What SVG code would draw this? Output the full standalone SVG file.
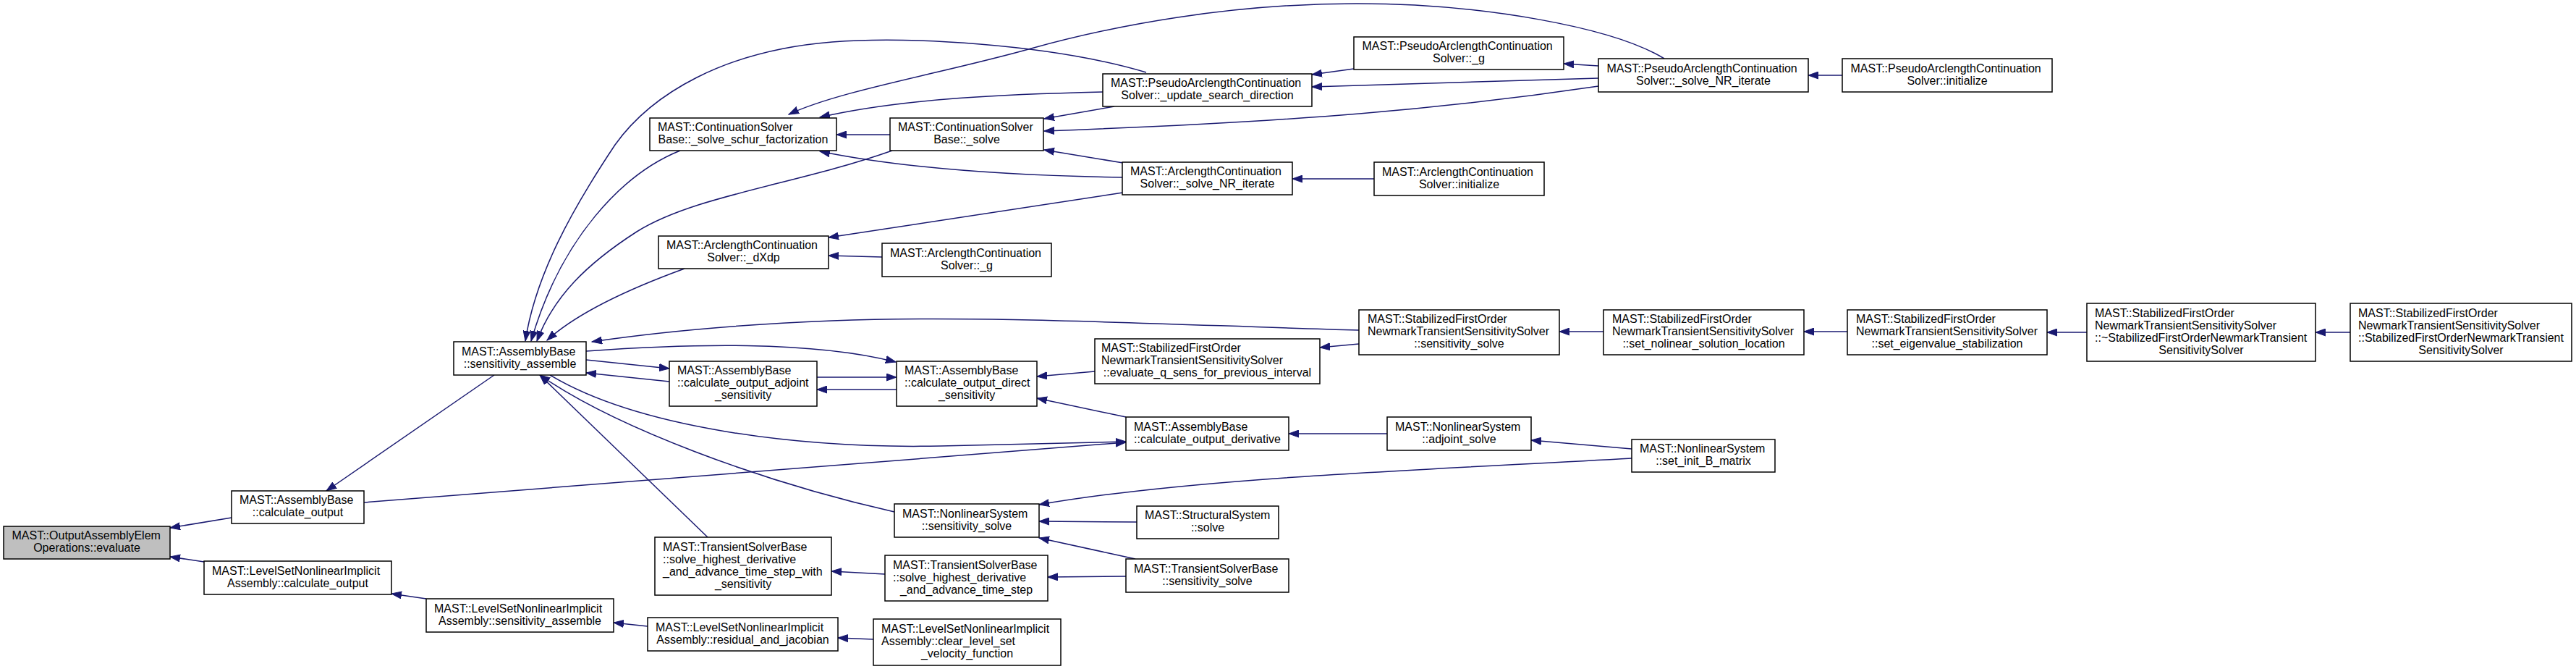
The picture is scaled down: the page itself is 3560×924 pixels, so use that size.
<svg xmlns="http://www.w3.org/2000/svg" width="3560" height="924" viewBox="0 0 3560 924">
<style>
.n rect{fill:#fff;stroke:#000;stroke-width:1.5}
.n rect.g{fill:#bfbfbf}
.n text{font-family:"Liberation Sans",Arial,sans-serif;font-size:16px;fill:#000}
.n text.c{text-anchor:middle}
.e path{fill:none;stroke:#191970;stroke-width:1.5}
</style>
<defs>
<marker id="a" markerWidth="15" markerHeight="11" refX="14" refY="5.5" orient="auto" markerUnits="userSpaceOnUse">
<path d="M0,0.5 L14,5.5 L0,10.5 z" fill="#191970" stroke="#191970" stroke-width="1"/>
</marker>
</defs>
<rect width="3560" height="924" fill="#fff"/>
<g class="e">
<path d="M320,715 L235,729" marker-end="url(#a)"/>
<path d="M282,776 L235,769" marker-end="url(#a)"/>
<path d="M683,518 L451,678" marker-end="url(#a)"/>
<path d="M503,694 L1556,611" marker-end="url(#a)"/>
<path d="M589,827 L541,820" marker-end="url(#a)"/>
<path d="M895,865 L848,860" marker-end="url(#a)"/>
<path d="M1584,100 C1450,60 1250,50 1150,58 C1000,70 900,130 850,200 C790,290 740,380 726,471" marker-end="url(#a)"/>
<path d="M2300,81 C2230,38 2050,5 1875,5 C1700,5 1540,35 1425,67 C1300,102 1160,125 1090,158" marker-end="url(#a)"/>
<path d="M1524,127 C1400,130 1250,135 1133,162" marker-end="url(#a)"/>
<path d="M1230,186 L1156,186" marker-end="url(#a)"/>
<path d="M1552,245 C1420,243 1260,235 1133,209" marker-end="url(#a)"/>
<path d="M1540,147 L1443,164" marker-end="url(#a)"/>
<path d="M2209,119 C2000,150 1800,168 1443,181" marker-end="url(#a)"/>
<path d="M1552,225 L1443,207" marker-end="url(#a)"/>
<path d="M940,208 C860,240 775,330 734,471" marker-end="url(#a)"/>
<path d="M1233,208 C1100,255 960,270 880,320 C810,365 765,410 742,471" marker-end="url(#a)"/>
<path d="M946,371 C880,395 800,430 756,470" marker-end="url(#a)"/>
<path d="M1552,266 L1145,328" marker-end="url(#a)"/>
<path d="M1219,355 L1145,353" marker-end="url(#a)"/>
<path d="M1878,456 C1600,448 1350,435 1150,443 C1000,449 900,460 818,472" marker-end="url(#a)"/>
<path d="M810,485 C950,475 1120,470 1238,500" marker-end="url(#a)"/>
<path d="M810,497 L925,509" marker-end="url(#a)"/>
<path d="M925,527 L810,515" marker-end="url(#a)"/>
<path d="M1129,521 L1239,521" marker-end="url(#a)"/>
<path d="M1239,538 L1129,538" marker-end="url(#a)"/>
<path d="M760,518 C880,590 1100,620 1300,616 C1400,614 1480,612 1556,610" marker-end="url(#a)"/>
<path d="M1236,707 C1050,665 850,590 746,518" marker-end="url(#a)"/>
<path d="M978,742 L746,518" marker-end="url(#a)"/>
<path d="M1513,513 L1433,520" marker-end="url(#a)"/>
<path d="M1556,576 L1433,550" marker-end="url(#a)"/>
<path d="M1878,475 L1824,480" marker-end="url(#a)"/>
<path d="M1917,599 L1781,599" marker-end="url(#a)"/>
<path d="M2255,620 L2116,608" marker-end="url(#a)"/>
<path d="M2255,633 C1950,650 1650,660 1436,697" marker-end="url(#a)"/>
<path d="M1571,721 L1436,720" marker-end="url(#a)"/>
<path d="M1569,772 L1436,743" marker-end="url(#a)"/>
<path d="M1556,796 L1448,797" marker-end="url(#a)"/>
<path d="M1223,793 L1149,789" marker-end="url(#a)"/>
<path d="M1207,883 L1158,881" marker-end="url(#a)"/>
<path d="M1871,95 L1813,103" marker-end="url(#a)"/>
<path d="M2209,108 L1813,120" marker-end="url(#a)"/>
<path d="M2209,91 L2161,88" marker-end="url(#a)"/>
<path d="M2546,104 L2499,104" marker-end="url(#a)"/>
<path d="M1899,247 L1786,247" marker-end="url(#a)"/>
<path d="M2216,458 L2155,458" marker-end="url(#a)"/>
<path d="M2553,458 L2493,458" marker-end="url(#a)"/>
<path d="M2884,459 L2829,459" marker-end="url(#a)"/>
<path d="M3248,459 L3200,459" marker-end="url(#a)"/>
</g>
<g id="n_eval" class="n"><rect class="g" x="5" y="727" width="230" height="45"/><text x="16.5" y="745">MAST::OutputAssemblyElem</text><text class="c" x="120" y="762">Operations::evaluate</text></g>
<g id="n_calc" class="n"><rect x="320" y="678" width="183" height="45"/><text x="331" y="696">MAST::AssemblyBase</text><text class="c" x="411.5" y="713">::calculate_output</text></g>
<g id="n_lscalc" class="n"><rect x="282" y="775" width="259" height="46"/><text x="293" y="793.5">MAST::LevelSetNonlinearImplicit</text><text class="c" x="411.5" y="810.5">Assembly::calculate_output</text></g>
<g id="n_lssens" class="n"><rect x="589" y="827" width="259" height="46"/><text x="600" y="845.5">MAST::LevelSetNonlinearImplicit</text><text class="c" x="718.5" y="862.5">Assembly::sensitivity_assemble</text></g>
<g id="n_sens" class="n"><rect x="627" y="472" width="183" height="46"/><text x="638" y="490.5">MAST::AssemblyBase</text><text class="c" x="718.5" y="507.5">::sensitivity_assemble</text></g>
<g id="n_schur" class="n"><rect x="898" y="163" width="258" height="45"/><text x="909" y="181">MAST::ContinuationSolver</text><text class="c" x="1027" y="198">Base::_solve_schur_factorization</text></g>
<g id="n_solve" class="n"><rect x="1230" y="163" width="212" height="45"/><text x="1241" y="181">MAST::ContinuationSolver</text><text class="c" x="1336" y="198">Base::_solve</text></g>
<g id="n_upd" class="n"><rect x="1524" y="102" width="289" height="45"/><text x="1535" y="120">MAST::PseudoArclengthContinuation</text><text class="c" x="1668.5" y="137">Solver::_update_search_direction</text></g>
<g id="n_acnr" class="n"><rect x="1551" y="224" width="235" height="45"/><text x="1562" y="242">MAST::ArclengthContinuation</text><text class="c" x="1668.5" y="259">Solver::_solve_NR_iterate</text></g>
<g id="n_dxdp" class="n"><rect x="910" y="326" width="235" height="45"/><text x="921" y="344">MAST::ArclengthContinuation</text><text class="c" x="1027.5" y="361">Solver::_dXdp</text></g>
<g id="n_acg" class="n"><rect x="1219" y="336" width="234" height="46"/><text x="1230" y="354.5">MAST::ArclengthContinuation</text><text class="c" x="1336" y="371.5">Solver::_g</text></g>
<g id="n_pg" class="n"><rect x="1871" y="51" width="290" height="45"/><text x="1882.5" y="69">MAST::PseudoArclengthContinuation</text><text class="c" x="2016" y="86">Solver::_g</text></g>
<g id="n_pnr" class="n"><rect x="2209" y="81" width="290" height="46"/><text x="2220.5" y="99.5">MAST::PseudoArclengthContinuation</text><text class="c" x="2354" y="116.5">Solver::_solve_NR_iterate</text></g>
<g id="n_pinit" class="n"><rect x="2546" y="81" width="290" height="46"/><text x="2557.5" y="99.5">MAST::PseudoArclengthContinuation</text><text class="c" x="2691" y="116.5">Solver::initialize</text></g>
<g id="n_acinit" class="n"><rect x="1899" y="224" width="235" height="46"/><text x="1910" y="242.5">MAST::ArclengthContinuation</text><text class="c" x="2016.5" y="259.5">Solver::initialize</text></g>
<g id="n_adj" class="n"><rect x="925" y="499" width="204" height="62"/><text x="936" y="517">MAST::AssemblyBase</text><text x="936" y="534">::calculate_output_adjoint</text><text class="c" x="1027" y="551">_sensitivity</text></g>
<g id="n_dir" class="n"><rect x="1239" y="499" width="194" height="62"/><text x="1250" y="517">MAST::AssemblyBase</text><text x="1250" y="534">::calculate_output_direct</text><text class="c" x="1336" y="551">_sensitivity</text></g>
<g id="n_evq" class="n"><rect x="1513" y="468" width="311" height="62"/><text x="1522" y="486">MAST::StabilizedFirstOrder</text><text x="1522" y="503">NewmarkTransientSensitivitySolver</text><text class="c" x="1668.5" y="520">::evaluate_q_sens_for_previous_interval</text></g>
<g id="n_deriv" class="n"><rect x="1556" y="576" width="225" height="46"/><text x="1567" y="594.5">MAST::AssemblyBase</text><text class="c" x="1668.5" y="611.5">::calculate_output_derivative</text></g>
<g id="n_adjs" class="n"><rect x="1917" y="576" width="199" height="46"/><text x="1928" y="594.5">MAST::NonlinearSystem</text><text class="c" x="2016.5" y="611.5">::adjoint_solve</text></g>
<g id="n_setB" class="n"><rect x="2255" y="607" width="198" height="45"/><text x="2266" y="625">MAST::NonlinearSystem</text><text class="c" x="2354" y="642">::set_init_B_matrix</text></g>
<g id="n_nss" class="n"><rect x="1236" y="696" width="200" height="46"/><text x="1247" y="714.5">MAST::NonlinearSystem</text><text class="c" x="1336" y="731.5">::sensitivity_solve</text></g>
<g id="n_str" class="n"><rect x="1571" y="699" width="196" height="45"/><text x="1582" y="717">MAST::StructuralSystem</text><text class="c" x="1669" y="734">::solve</text></g>
<g id="n_ws" class="n"><rect x="905" y="742" width="244" height="80"/><text x="916" y="760.5">MAST::TransientSolverBase</text><text x="916" y="777.5">::solve_highest_derivative</text><text x="916" y="794.5">_and_advance_time_step_with</text><text class="c" x="1027" y="811.5">_sensitivity</text></g>
<g id="n_sh" class="n"><rect x="1223" y="767" width="225" height="63"/><text x="1234" y="785.5">MAST::TransientSolverBase</text><text x="1234" y="802.5">::solve_highest_derivative</text><text class="c" x="1335.5" y="819.5">_and_advance_time_step</text></g>
<g id="n_tss" class="n"><rect x="1556" y="772" width="225" height="46"/><text x="1567" y="790.5">MAST::TransientSolverBase</text><text class="c" x="1668.5" y="807.5">::sensitivity_solve</text></g>
<g id="n_rj" class="n"><rect x="895" y="853" width="263" height="46"/><text x="906" y="871.5">MAST::LevelSetNonlinearImplicit</text><text class="c" x="1026.5" y="888.5">Assembly::residual_and_jacobian</text></g>
<g id="n_cls" class="n"><rect x="1207" y="855" width="259" height="64"/><text x="1218" y="874">MAST::LevelSetNonlinearImplicit</text><text x="1218" y="891">Assembly::clear_level_set</text><text class="c" x="1336.5" y="908">_velocity_function</text></g>
<g id="n_sss" class="n"><rect x="1878" y="428" width="277" height="62"/><text x="1890" y="446">MAST::StabilizedFirstOrder</text><text x="1890" y="463">NewmarkTransientSensitivitySolver</text><text class="c" x="2016.5" y="480">::sensitivity_solve</text></g>
<g id="n_snl" class="n"><rect x="2216" y="428" width="277" height="62"/><text x="2228" y="446">MAST::StabilizedFirstOrder</text><text x="2228" y="463">NewmarkTransientSensitivitySolver</text><text class="c" x="2354.5" y="480">::set_nolinear_solution_location</text></g>
<g id="n_seig" class="n"><rect x="2553" y="428" width="276" height="62"/><text x="2565" y="446">MAST::StabilizedFirstOrder</text><text x="2565" y="463">NewmarkTransientSensitivitySolver</text><text class="c" x="2691" y="480">::set_eigenvalue_stabilization</text></g>
<g id="n_dtor" class="n"><rect x="2884" y="419" width="316" height="80"/><text x="2895" y="437.5">MAST::StabilizedFirstOrder</text><text x="2895" y="454.5">NewmarkTransientSensitivitySolver</text><text x="2895" y="471.5">::~StabilizedFirstOrderNewmarkTransient</text><text class="c" x="3042" y="488.5">SensitivitySolver</text></g>
<g id="n_ctor" class="n"><rect x="3248" y="419" width="306" height="80"/><text x="3259" y="437.5">MAST::StabilizedFirstOrder</text><text x="3259" y="454.5">NewmarkTransientSensitivitySolver</text><text x="3259" y="471.5">::StabilizedFirstOrderNewmarkTransient</text><text class="c" x="3401" y="488.5">SensitivitySolver</text></g>
</svg>
